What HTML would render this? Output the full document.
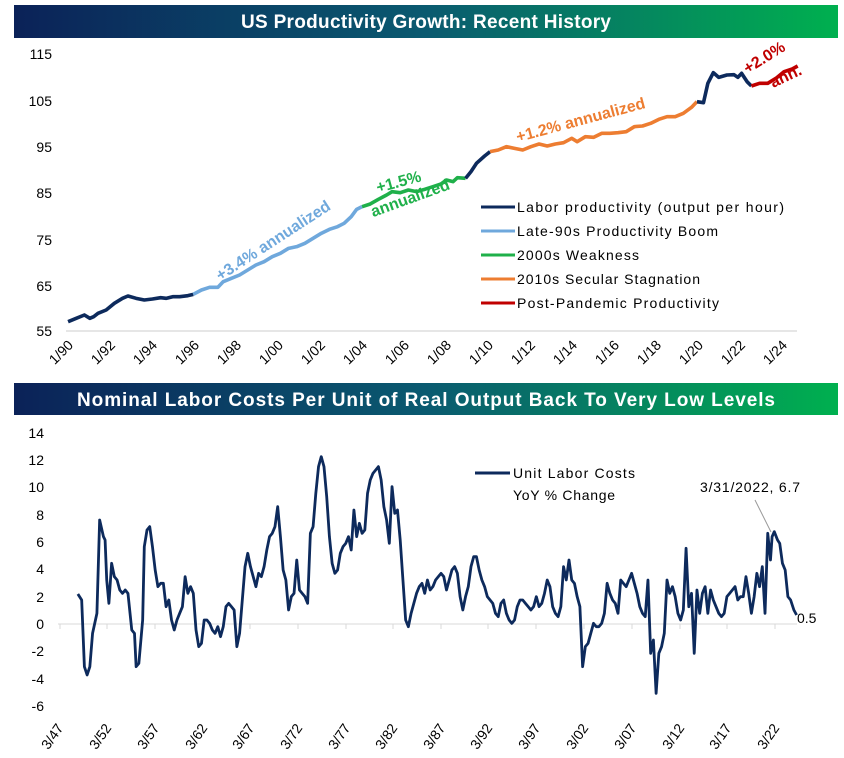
<!DOCTYPE html>
<html><head><meta charset="utf-8"><style>
body{margin:0;background:#fff;width:844px;height:758px;overflow:hidden}
svg{display:block}
text{font-family:"Liberation Sans",sans-serif}
</style></head><body>
<svg width="844" height="758" viewBox="0 0 844 758">
<defs><linearGradient id="g" x1="0" x2="1"><stop offset="0" stop-color="#0b2258"/><stop offset="0.5" stop-color="#0a5a70"/><stop offset="1" stop-color="#00b04f"/></linearGradient></defs>
<rect x="14" y="5" width="824" height="33" fill="url(#g)"/>
<text x="426" y="28" text-anchor="middle" fill="#fff" font-size="19" font-weight="bold" textLength="370">US Productivity Growth: Recent History</text>
<rect x="14" y="383" width="824" height="32" fill="url(#g)"/>
<text x="426" y="406" text-anchor="middle" fill="#fff" font-size="19" font-weight="bold" textLength="698">Nominal Labor Costs Per Unit of Real Output Back To Very Low Levels</text>

<g font-size="14" fill="#000" text-anchor="end">
<text x="52" y="59">115</text><text x="52" y="106">105</text><text x="52" y="152">95</text><text x="52" y="198">85</text><text x="52" y="245">75</text><text x="52" y="291">65</text><text x="52" y="336">55</text>
</g>
<line x1="66" y1="331" x2="797" y2="331" stroke="#ccc"/>
<g font-size="14" fill="#000" text-anchor="end">
<text transform="translate(74,346) rotate(-45)">1/90</text><text transform="translate(116,346) rotate(-45)">1/92</text><text transform="translate(158,346) rotate(-45)">1/94</text><text transform="translate(200,346) rotate(-45)">1/96</text><text transform="translate(242,346) rotate(-45)">1/98</text><text transform="translate(284,346) rotate(-45)">1/00</text><text transform="translate(326,346) rotate(-45)">1/02</text><text transform="translate(368,346) rotate(-45)">1/04</text><text transform="translate(410,346) rotate(-45)">1/06</text><text transform="translate(452,346) rotate(-45)">1/08</text><text transform="translate(494,346) rotate(-45)">1/10</text><text transform="translate(536,346) rotate(-45)">1/12</text><text transform="translate(578,346) rotate(-45)">1/14</text><text transform="translate(620,346) rotate(-45)">1/16</text><text transform="translate(662,346) rotate(-45)">1/18</text><text transform="translate(704,346) rotate(-45)">1/20</text><text transform="translate(746,346) rotate(-45)">1/22</text><text transform="translate(788,346) rotate(-45)">1/24</text>
</g>
<g transform="scale(0.5445,0.33333)" fill="none" stroke-width="3.6" stroke-linejoin="round">
<polyline vector-effect="non-scaling-stroke" stroke="#0d2a5c" points="125,965 140,955 155,945 165,955 172,950 180,940 195,930 210,910 225,895 235,888 250,895 265,900 280,897 295,893 305,895 318,890 330,890 345,887 355,883"/>
<polyline vector-effect="non-scaling-stroke" stroke="#6fa8dc" points="355,883 370,870 385,862 400,862 410,845 425,835 440,825 455,810 470,795 485,785 500,770 515,760 530,745 545,740 560,730 575,715 590,700 605,688 620,680 632,670 645,650 655,628 665,620"/>
<polyline vector-effect="non-scaling-stroke" stroke="#1fb04a" points="665,620 680,612 695,598 710,585 720,575 735,578 750,570 765,575 780,568 795,560 810,552 820,540 832,545 840,533 855,535"/>
<polyline vector-effect="non-scaling-stroke" stroke="#0d2a5c" points="855,535 865,515 875,490 890,468 900,455"/>
<polyline vector-effect="non-scaling-stroke" stroke="#ed7d31" points="900,455 915,450 930,440 945,445 960,450 975,440 990,432 1005,438 1020,432 1035,428 1050,415 1060,425 1075,410 1090,412 1105,400 1120,400 1135,398 1150,395 1165,380 1180,378 1195,370 1210,358 1225,350 1240,350 1255,340 1270,322 1280,305"/>
<polyline vector-effect="non-scaling-stroke" stroke="#0d2a5c" points="1280,305 1292,308 1300,250 1310,218 1320,232 1335,225 1348,224 1355,232 1362,220 1372,245 1380,258"/>
<polyline vector-effect="non-scaling-stroke" stroke="#c00000" points="1380,258 1395,250 1410,250 1425,235 1440,215 1455,207 1465,198"/>
</g>
<g font-weight="bold" font-size="16">
<text transform="translate(276,245) rotate(-33)" text-anchor="middle" fill="#6fa8dc">+3.4% annualized</text>
<text transform="translate(400,187) rotate(-15)" text-anchor="middle" fill="#1fb04a">+1.5%</text>
<text transform="translate(412,203) rotate(-20)" text-anchor="middle" fill="#1fb04a">annualized</text>
<text transform="translate(582,125) rotate(-15)" text-anchor="middle" fill="#ed7d31">+1.2% annualized</text>
<text transform="translate(767,62) rotate(-32)" text-anchor="middle" fill="#c00000">+2.0%</text>
<text transform="translate(788,81) rotate(-25)" text-anchor="middle" fill="#c00000">ann.</text>
</g>
<g stroke-width="3">
<line x1="481" y1="207" x2="515" y2="207" stroke="#0d2a5c"/>
<line x1="481" y1="231" x2="515" y2="231" stroke="#6fa8dc"/>
<line x1="481" y1="255" x2="515" y2="255" stroke="#1fb04a"/>
<line x1="481" y1="279" x2="515" y2="279" stroke="#ed7d31"/>
<line x1="481" y1="303" x2="515" y2="303" stroke="#c00000"/>
</g>
<g font-size="14" fill="#000">
<text x="517" y="212" textLength="267">Labor productivity (output per hour)</text>
<text x="517" y="236" textLength="201">Late-90s Productivity Boom</text>
<text x="517" y="260" textLength="122">2000s Weakness</text>
<text x="517" y="284" textLength="183">2010s Secular Stagnation</text>
<text x="517" y="308" textLength="202">Post-Pandemic Productivity</text>
</g>

<g font-size="14" fill="#000" text-anchor="end">
<text x="44" y="438">14</text><text x="44" y="465">12</text><text x="44" y="492">10</text><text x="44" y="520">8</text><text x="44" y="547">6</text><text x="44" y="574">4</text><text x="44" y="602">2</text><text x="44" y="629">0</text><text x="44" y="656">-2</text><text x="44" y="684">-4</text><text x="44" y="711">-6</text>
</g>
<line x1="58" y1="624" x2="797" y2="624" stroke="#d9d9d9"/>
<g stroke="#d9d9d9"><line x1="60" y1="624" x2="60" y2="629"/><line x1="107" y1="624" x2="107" y2="629"/><line x1="155" y1="624" x2="155" y2="629"/><line x1="203" y1="624" x2="203" y2="629"/><line x1="250" y1="624" x2="250" y2="629"/><line x1="298" y1="624" x2="298" y2="629"/><line x1="346" y1="624" x2="346" y2="629"/><line x1="393" y1="624" x2="393" y2="629"/><line x1="441" y1="624" x2="441" y2="629"/><line x1="488" y1="624" x2="488" y2="629"/><line x1="536" y1="624" x2="536" y2="629"/><line x1="584" y1="624" x2="584" y2="629"/><line x1="632" y1="624" x2="632" y2="629"/><line x1="680" y1="624" x2="680" y2="629"/><line x1="727" y1="624" x2="727" y2="629"/><line x1="775" y1="624" x2="775" y2="629"/></g>
<g font-size="14" fill="#000" text-anchor="end">
<text transform="translate(64,728) rotate(-55)">3/47</text><text transform="translate(112,728) rotate(-55)">3/52</text><text transform="translate(160,728) rotate(-55)">3/57</text><text transform="translate(208,728) rotate(-55)">3/62</text><text transform="translate(255,728) rotate(-55)">3/67</text><text transform="translate(303,728) rotate(-55)">3/72</text><text transform="translate(351,728) rotate(-55)">3/77</text><text transform="translate(398,728) rotate(-55)">3/82</text><text transform="translate(446,728) rotate(-55)">3/87</text><text transform="translate(493,728) rotate(-55)">3/92</text><text transform="translate(541,728) rotate(-55)">3/97</text><text transform="translate(589,728) rotate(-55)">3/02</text><text transform="translate(637,728) rotate(-55)">3/07</text><text transform="translate(685,728) rotate(-55)">3/12</text><text transform="translate(732,728) rotate(-55)">3/17</text><text transform="translate(780,728) rotate(-55)">3/22</text>
</g>
<g transform="translate(0,380) scale(0.5445,0.33333)">
<polyline vector-effect="non-scaling-stroke" fill="none" stroke="#0d2a5c" stroke-width="2.8" stroke-linejoin="round" points="143,642 150,660 155,860 160,885 165,860 170,760 178,700 183,420 190,470 193,480 196,600 200,670 205,550 210,590 215,600 220,630 225,640 230,630 235,640 242,750 247,760 250,860 255,850 262,720 265,500 270,450 275,440 280,500 285,570 290,620 295,610 300,610 305,680 310,660 315,720 320,750 325,720 330,700 335,680 340,590 345,640 350,620 355,640 360,750 365,800 370,790 375,720 380,720 385,730 390,750 395,760 400,740 405,770 410,740 415,680 420,670 425,680 430,690 435,800 440,760 450,560 455,520 460,560 465,590 470,620 475,580 480,590 485,560 490,510 495,470 500,460 505,440 510,380 515,470 520,570 525,600 530,690 535,650 540,640 545,540 550,630 555,640 560,650 565,670 570,460 575,440 580,340 585,260 590,230 595,260 600,350 605,470 610,550 615,580 620,570 625,520 630,500 635,490 640,470 645,510 650,390 655,470 660,430 665,460 670,450 675,340 680,300 685,280 690,270 695,260 700,300 705,380 710,420 715,490 720,320 725,400 730,390 735,480 740,600 745,720 750,740 755,700 760,670 765,640 770,620 775,610 780,640 785,600 790,630 795,620 800,600 805,590 810,580 815,590 820,630 825,600 830,570 835,560 840,580 845,650 850,690 855,650 860,620 865,560 870,530 875,530 880,570 885,600 890,620 895,650 900,660 905,670 910,700 915,710 920,670 925,660 930,700 935,720 940,730 945,720 950,680 955,660 960,660 965,670 970,680 975,690 980,680 985,650 990,680 995,670 1000,640 1005,600 1010,620 1015,680 1020,700 1025,710 1030,680 1035,560 1040,600 1045,540 1050,600 1055,610 1060,650 1065,680 1070,860 1075,800 1080,790 1090,730 1095,740 1100,740 1105,730 1110,700 1115,610 1120,640 1125,660 1130,670 1135,700 1140,600 1145,610 1150,620 1155,600 1160,580 1165,610 1170,640 1175,680 1180,700 1185,710 1190,600 1195,820 1200,780 1205,940 1210,820 1215,800 1220,760 1225,600 1230,640 1235,620 1240,650 1245,700 1250,720 1255,690 1260,505 1265,680 1270,640 1275,820 1280,630 1285,700 1290,640 1295,620 1300,700 1305,630 1310,660 1315,680 1320,700 1325,710 1330,700 1335,650 1340,640 1345,630 1350,620 1355,660 1360,650 1365,650 1370,590 1375,640 1380,700 1385,650 1390,580 1395,620 1400,560 1405,700 1410,460 1415,540 1418,470 1422,455 1428,480 1432,490 1437,550 1442,570 1447,650 1452,660 1458,690 1463,705"/>
</g>
<line x1="475" y1="473" x2="510" y2="473" stroke="#0d2a5c" stroke-width="3"/>
<g font-size="14" fill="#000">
<text x="513" y="478" textLength="122">Unit Labor Costs</text>
<text x="513" y="500" textLength="102">YoY % Change</text>
<text x="700" y="492" textLength="100">3/31/2022, 6.7</text>
<text x="797" y="623">0.5</text>
</g>
<line x1="755" y1="500" x2="771" y2="532" stroke="#999" stroke-width="1"/>
</svg>
</body></html>
